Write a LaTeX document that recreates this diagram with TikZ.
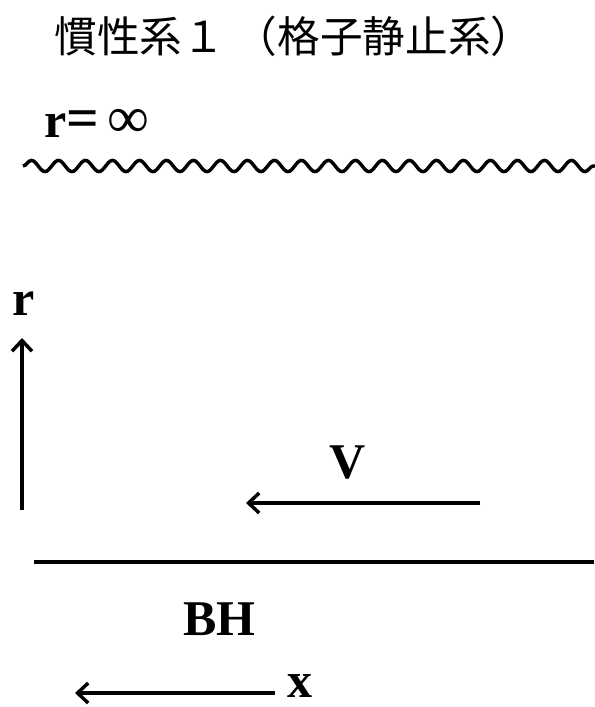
\documentclass[tikz,border=0pt]{standalone}
\usepackage{fontspec}
\setmainfont{Liberation Serif}
\newfontfamily\cjk{Noto Sans CJK JP}
\usetikzlibrary{arrows.meta,decorations.pathmorphing}

\tikzset{every picture/.style={line width=0.75pt}}

\begin{document}
\begin{tikzpicture}[x=0.75pt,y=0.75pt,yscale=-1,xscale=1,
		axis/.style={line width=2.6pt,-{Straight Barb[length=8pt,width=15pt,line width=2.6pt]}},
		lbl/.style={anchor=base west,inner sep=0pt,font=\fontsize{37.5}{40}\selectfont\bfseries}]
				\useasboundingbox (0,0) rectangle (594,707);
				
				% Text Node
				\node (title) [anchor=base west,inner sep=0pt,font=\fontsize{32}{36}\selectfont\cjk] at (54,52) {慣性系１ （格子静止系）};
				% Text Node
				\node (rinf) [lbl] at (44,137) {r{\fontsize{43}{46}\selectfont =}\,\mdseries{\fontsize{44}{46}\selectfont ∞}};
				
				%Wavy Line
				\coordinate (wl) at (23,166);
				\coordinate (wr) at (600,166);
				\draw [line width=2.6pt,decorate,decoration={snake,segment length=20.25pt,amplitude=4.2pt}] (wl) -- (wr);
				
				%Straight Lines [r axis]
				\coordinate (ra) at (22,510);
				\coordinate (rb) at (22,338);
				\draw [axis] (ra) -- (rb);
				% Text Node
				\node (rlab) [lbl] at (12,315) {r};
				
				%Straight Lines [velocity]
				\coordinate (va) at (480,503);
				\coordinate (vb) at (246,503);
				\draw [axis] (va) -- (vb);
				% Text Node
				\node (vlab) [lbl] at (329,478) {V};
				
				%Straight Lines [horizon]
				\coordinate (ha) at (34,562);
				\coordinate (hb) at (594,562);
				\draw [line width=3pt] (ha) -- (hb);
				% Text Node
				\node (bh) [lbl] at (183,635) {BH};
				
				%Straight Lines [x axis]
				\coordinate (xa) at (275,693);
				\coordinate (xb) at (75,693);
				\draw [axis] (xa) -- (xb);
				% Text Node
				\node (xlab) [lbl] at (287,697) {x};
				
			\end{tikzpicture}
\end{document}
